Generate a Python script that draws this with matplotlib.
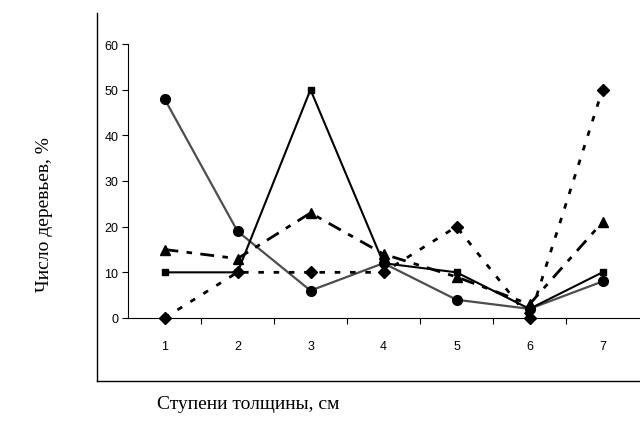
import matplotlib.pyplot as plt
from matplotlib.lines import Line2D

# данные
steps = [1, 2, 3, 4, 5, 6, 7]
s_square = [10, 10, 50, 12, 10, 2, 10]
s_circle = [48, 19, 6, 12, 4, 2, 8]
s_triangle = [15, 13, 23, 14, 9, 3, 21]
s_diamond = [0, 10, 10, 10, 20, 0, 50]
y_ticks = [0, 10, 20, 30, 40, 50, 60]

fig = plt.figure(figsize=(6.4, 4.39), dpi=100)
ax = fig.add_axes([128/640, (439-319)/439, (639-128)/640, (319-45)/439])

# линии серий
ax.plot(steps, s_circle, color='0.3', linewidth=1.6, marker='o', markersize=7,
        markerfacecolor='black', markeredgecolor='black', clip_on=False)
ax.plot(steps, s_square, color='black', linewidth=1.5, marker='s', markersize=5,
        clip_on=False)
ax.plot(steps, s_triangle, color='black', linewidth=2, dashes=[5, 3, 2, 3],
        marker='^', markersize=7, clip_on=False)
ax.plot(steps, s_diamond, color='black', linewidth=2, dashes=[2, 3.5],
        marker='D', markersize=6, clip_on=False)

ax.set_xlim(0.5, 7.5)
ax.set_ylim(0, 60)

tick_font = {'family': 'Liberation Sans', 'size': 9}
ax.set_yticks(y_ticks)
ax.set_yticklabels([str(v) for v in y_ticks], fontdict=tick_font)
ax.set_xticks(steps)
ax.set_xticklabels([str(v) for v in steps], fontdict=tick_font)
ax.set_xticks([s + 0.5 for s in steps[:-1]], minor=True)
ax.tick_params(axis='x', which='major', length=0, pad=16)
ax.tick_params(axis='x', which='minor', length=4, width=0.8, direction='out')
ax.tick_params(axis='y', length=4, width=0.8, pad=3)

ax.spines['right'].set_visible(False)
ax.spines['top'].set_visible(False)
ax.spines['left'].set_linewidth(0.8)
ax.spines['bottom'].set_linewidth(0.8)

# подписи осей
fig.text(45/640, 1 - 215/439, 'Число деревьев, %', rotation=90, ha='center',
         va='center', family='Liberation Serif', fontsize=14)
fig.text(248/640, 1 - 405/439, 'Ступени толщины, см', ha='center', va='center',
         family='Liberation Serif', fontsize=14)

# рамка области диаграммы
fig.add_artist(Line2D([97/640, 97/640], [1 - 14/439, 1 - 382/439],
                      color='black', linewidth=1))
fig.add_artist(Line2D([97/640, 1], [1 - 382/439, 1 - 382/439],
                      color='black', linewidth=1))

fig.savefig('out.png', dpi=100)
